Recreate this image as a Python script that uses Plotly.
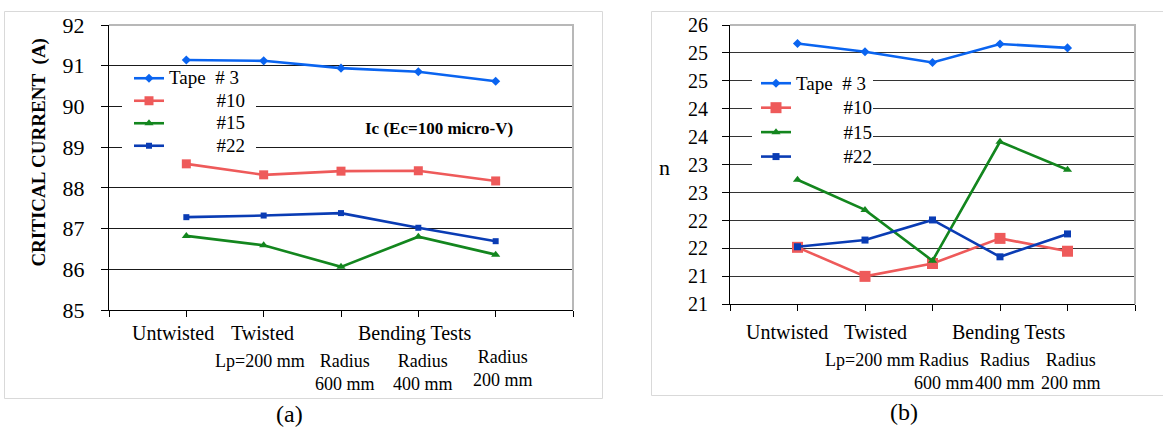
import plotly.graph_objects as go

W, H = 1163, 428
FONT = "Liberation Serif"

# ---------------- data ----------------
positions = [1, 2, 3, 4, 5]
series_labels = ["Tape\u00a0\u00a0#\u00a03", "\u00a0" * 10 + "#10", "\u00a0" * 10 + "#15", "\u00a0" * 10 + "#22"]

ic_tape3 = [91.14, 91.12, 90.94, 90.85, 90.62]
ic_tape10 = [88.59, 88.32, 88.41, 88.42, 88.17]
ic_tape15 = [86.82, 86.59, 86.06, 86.80, 86.36]
ic_tape22 = [87.28, 87.32, 87.38, 87.02, 86.69]

n_tape3 = [25.67, 25.52, 25.33, 25.66, 25.59]
n_tape10 = [22.02, 21.50, 21.73, 22.18, 21.95]
n_tape15 = [23.23, 22.69, 21.78, 23.91, 23.41]
n_tape22 = [22.03, 22.15, 22.51, 21.85, 22.26]

ic_range = [85, 92]
ic_ticks = [85, 86, 87, 88, 89, 90, 91, 92]
n_range = [21, 26]
n_tickvals = [21, 21.5, 22, 22.5, 23, 23.5, 24, 24.5, 25, 25.5, 26]
n_ticktext = ["21", "21", "22", "22", "23", "23", "24", "24", "25", "25", "26"]
x_range = [0, 6]

row1_labels = ["Untwisted", "Twisted", "Bending Tests"]
row2_labels = ["Lp=200 mm", "Radius<br>600 mm", "Radius<br>400 mm", "Radius<br>200 mm"]

# ---------------- styles ----------------
colors = ["#0A64F0", "#EE5A5A", "#13861E", "#0A3CB4"]
symbols = ["diamond", "square", "triangle-up", "square"]
sizes_a = [7, 9, 8, 6]
sizes_b = [7, 11, 8, 7]

# plot areas in pixels: (left, right, top, bottom)
A_BOX = (109, 573, 25, 310)
B_BOX = (730, 1135, 25, 304.3)


def px(x):
    return x / W


def py(y):
    return 1 - y / H


def styled(name, size):
    return f"<span style='font-size:{size}px'>{name}</span>"


fig = go.Figure()

ic_sets = [ic_tape3, ic_tape10, ic_tape15, ic_tape22]
n_sets = [n_tape3, n_tape10, n_tape15, n_tape22]

for i in range(4):
    fig.add_trace(go.Scatter(
        x=positions, y=ic_sets[i], name=styled(series_labels[i], 19), mode="lines+markers",
        line=dict(color=colors[i], width=2.6),
        marker=dict(symbol=symbols[i], size=sizes_a[i], color=colors[i]),
        xaxis="x", yaxis="y", legend="legend", cliponaxis=False))
for i in range(4):
    fig.add_trace(go.Scatter(
        x=positions, y=n_sets[i], name=styled(series_labels[i], 19), mode="lines+markers",
        line=dict(color=colors[i], width=2.6),
        marker=dict(symbol=symbols[i], size=sizes_b[i], color=colors[i]),
        xaxis="x2", yaxis="y2", legend="legend2", cliponaxis=False))

xa_common = dict(range=x_range, tickvals=[0, 1, 2, 3, 4, 5, 6], showticklabels=False,
                 ticks="outside", ticklen=6, tickcolor="black", tickwidth=1.2,
                 showline=True, linecolor="black", linewidth=1.2, showgrid=False,
                 zeroline=False, fixedrange=True, automargin=False)

layout = dict(
    width=W, height=H,
    margin=dict(l=0, r=0, t=0, b=0, pad=0),
    paper_bgcolor="white", plot_bgcolor="white",
    font=dict(family=FONT, color="black"),
    xaxis=dict(domain=[px(A_BOX[0]), px(A_BOX[1])], anchor="y", **xa_common),
    yaxis=dict(domain=[py(A_BOX[3]), py(A_BOX[2])], anchor="x", range=ic_range, tickvals=ic_ticks,
               ticks="outside", ticklen=7, tickcolor="black", tickwidth=1.2,
               ticklabelstandoff=12, tickfont=dict(size=22, family=FONT),
               showline=True, linecolor="black", linewidth=1.2, automargin=False,
               showgrid=True, gridcolor="#1a1a1a", gridwidth=1.3, zeroline=False),
    xaxis2=dict(domain=[px(B_BOX[0]), px(B_BOX[1])], anchor="y2", **xa_common),
    yaxis2=dict(domain=[py(B_BOX[3]), py(B_BOX[2])], anchor="x2", range=n_range,
                tickvals=n_tickvals, ticktext=n_ticktext,
                ticks="outside", ticklen=7, tickcolor="black", tickwidth=1.2,
                ticklabelstandoff=10, tickfont=dict(size=20, family=FONT),
                showline=True, linecolor="black", linewidth=1.2, automargin=False,
                showgrid=True, gridcolor="#333333", gridwidth=1.3, zeroline=False),
    legend=dict(x=px(129), y=py(62), xanchor="left", yanchor="top",
                bgcolor="rgba(0,0,0,0)", borderwidth=0, font=dict(size=15, family=FONT),
                itemwidth=30, tracegroupgap=0),
    legend2=dict(x=px(756), y=py(66), xanchor="left", yanchor="top",
                 bgcolor="rgba(0,0,0,0)", borderwidth=0, font=dict(size=16.5, family=FONT),
                 itemwidth=30, tracegroupgap=0),
    showlegend=True,
)
fig.update_layout(**layout)


def data_rect(box, yr_vals, xr, yr, x0, x1, y0, y1):
    """White backdrop (pixel box converted to axis units) between gridlines and traces."""
    l, r, t, b = box
    lo, hi = yr_vals
    fx = lambda v: x_range[0] + (v - l) / (r - l) * (x_range[1] - x_range[0])
    fy = lambda v: lo + (b - v) / (b - t) * (hi - lo)
    return dict(type="rect", xref=xr, yref=yr, x0=fx(x0), x1=fx(x1), y0=fy(y1), y1=fy(y0),
                fillcolor="white", line=dict(width=0), layer="between")


shapes = [
    # outer panel boxes
    dict(type="rect", xref="paper", yref="paper", x0=px(4.5), x1=px(602.5), y0=py(398.5), y1=py(11.5),
         line=dict(color="#D9D9D9", width=1)),
    dict(type="rect", xref="paper", yref="paper", x0=px(651.5), x1=px(1170), y0=py(395.5), y1=py(11.5),
         line=dict(color="#D9D9D9", width=1)),
    # white legend backgrounds (above gridlines, below traces)
    data_rect(A_BOX, ic_range, "x", "y", 122, 256, 68, 152),
    data_rect(B_BOX, n_range, "x2", "y2", 752, 873, 60, 172),
    # plot-area borders (gray top/right)
    dict(type="path", xref="paper", yref="paper",
         path=f"M {px(A_BOX[0])},{py(A_BOX[2])} L {px(A_BOX[1])},{py(A_BOX[2])} L {px(A_BOX[1])},{py(A_BOX[3])}",
         line=dict(color="#B8B8B8", width=2), layer="above"),
    dict(type="path", xref="paper", yref="paper",
         path=f"M {px(B_BOX[0])},{py(B_BOX[2])} L {px(B_BOX[1])},{py(B_BOX[2])} L {px(B_BOX[1])},{py(B_BOX[3])}",
         line=dict(color="#B8B8B8", width=2), layer="above"),
]
fig.update_layout(shapes=shapes)

ann = []


def add_text(text, x, y, size, bold=False, angle=0):
    ann.append(dict(text=f"<b>{text}</b>" if bold else text, x=px(x), y=py(y),
                    xref="paper", yref="paper", xanchor="center", yanchor="middle",
                    showarrow=False, textangle=angle,
                    font=dict(size=size, family=FONT, color="black")))


# panel (a)
add_text("CRITICAL CURRENT\u00a0\u00a0(A)", 38.6, 152, 19, bold=True, angle=-90)
add_text("Ic (Ec=100 micro-V)", 439, 128.5, 17, bold=True)
for t, x in zip(row1_labels, [172.5, 262.5, 414]):
    add_text(t, x, 333, 20)
for t, x, y in zip(row2_labels, [260, 344.6, 422.8, 502.5], [361, 372, 372, 368]):
    add_text(t, x, y, 18)
add_text("(a)", 289.6, 414, 24)

# panel (b)
add_text("n", 664.6, 167, 22)
for t, x in zip(row1_labels, [786.6, 875, 1008.5]):
    add_text(t, x, 332, 20)
for t, x, y in zip(row2_labels, [869.5, 944, 1004.5, 1070.6], [360, 371, 371, 371]):
    add_text(t, x, y, 18)
add_text("(b)", 903.7, 412, 24)

fig.update_layout(annotations=ann)

fig.write_html("out.html")
